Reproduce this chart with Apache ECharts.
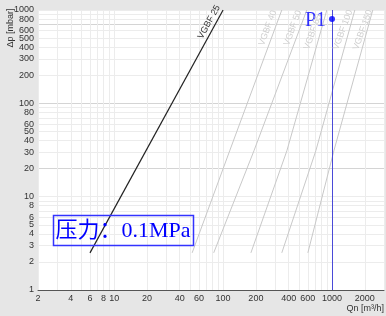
<!DOCTYPE html>
<html><head><meta charset="utf-8">
<script src="https://cdn.jsdelivr.net/npm/echarts@6/dist/echarts.min.js"></script>
<style>html,body{margin:0;padding:0;background:#e6e6e6}#c{width:386px;height:316px}</style>
</head><body><div id="c"></div>
<script>
// ---- data ----
const xTickLabels = [2,4,6,8,10,20,40,60,100,200,400,600,1000,2000];
const yTickLabels = [1,2,3,4,5,6,8,10,20,30,40,50,60,80,100,200,300,400,500,600,800,1000];
const xGrid = [2,3,4,5,6,7,8,9,10,20,30,40,50,60,70,80,90,100,200,300,400,500,600,700,800,900,1000,2000,3000];
const yGrid = [1,2,3,4,5,6,7,8,9,10,20,30,40,50,60,70,80,90,100,200,300,400,500,600,700,800,900,1000];
const yMajor = [1,20,100,700];
const curveNames = ['VGBF 25','VGBF 40','VGBF 50','VGBF 65','VGBF 100','VGBF 150'];
const vgbf25  = [[6,2.5],[100,1000]];
const vgbf40  = [[52,2.5],[115,31],[346,1000]];
const vgbf50  = [[82,2.5],[192,31],[587,1000]];
const vgbf65  = [[180,2.5],[385,31],[896,1000]];
const vgbf100 = [[346,2.5],[710,31],[1619,1000]];
const vgbf150 = [[600,2.5],[1040,31],[2366,1000]];
const p1 = [1000,800];
const pressureText = '压力：0.1MPa';
const xName = 'Qn [m³/h]';
const yName = 'Δp [mbar]';

const chart = echarts.init(document.getElementById('c'), null, {renderer:'canvas'});
const lbl = {color:'#333', fontSize:9, fontFamily:'Liberation Sans, Arial'};
const gray = '#c8c8c8';
function line(name, data, color, w){
  return {name, type:'line', data, symbol:'none', silent:true,
    lineStyle:{color, width:w}, xAxisIndex:0, yAxisIndex:0, z:3};
}
chart.setOption({
  animation:false,
  backgroundColor:'#e6e6e6',
  grid:{left:38, right:2, top:10, bottom:26, show:true, backgroundColor:'#fff', borderWidth:0, outerBoundsMode:'none', containLabel:false},
  xAxis:[{
    type:'log', logBase:10, min:2, max:3000,
    name:xName, nameLocation:'end', nameGap:0,
    nameTextStyle:{color:'#333', fontSize:9, fontFamily:'Liberation Sans, Arial', align:'right', verticalAlign:'top', padding:[14,0,0,0]},
    axisLine:{show:true, lineStyle:{color:'#555', width:1}},
    axisTick:{show:false, customValues:xGrid},
    axisLabel:{...lbl, margin:4, customValues:xTickLabels, formatter:v=>String(Math.round(v))},
    splitLine:{show:true, lineStyle:{color:'#ececec', width:1}}
  }],
  yAxis:[{
    type:'log', logBase:10, min:1, max:1000,
    axisLine:{show:false},
    axisTick:{show:false, customValues:yGrid},
    axisLabel:{...lbl, margin:4, customValues:yTickLabels, formatter:v=>String(Math.round(v))},
    splitLine:{show:true, lineStyle:{color:'#ececec', width:1}}
  },{
    type:'log', logBase:10, min:1, max:1000, show:true,
    axisLine:{show:false}, axisLabel:{show:false},
    axisTick:{show:false, customValues:yMajor},
    splitLine:{show:true, lineStyle:{color:'#d4d4d4', width:1}}
  }],
  series:[
    line(curveNames[1], vgbf40, gray, 1),
    line(curveNames[2], vgbf50, gray, 1),
    line(curveNames[3], vgbf65, gray, 1),
    line(curveNames[4], vgbf100, gray, 1),
    line(curveNames[5], vgbf150, gray, 1),
    line(curveNames[0], vgbf25, '#222', 1.2),
    {type:'scatter', data:[p1], symbolSize:6, itemStyle:{color:'#0000ff'}, z:5,
     label:{show:true, position:'left', formatter:'P1', color:'#0000ff', fontSize:20, fontFamily:'Liberation Serif, serif', offset:[2,2]},
     markLine:{silent:true, symbol:'none', label:{show:false}, lineStyle:{color:'#4a4ad8', type:'solid', width:1},
       data:[{xAxis:p1[0]}]}}
  ]
});

// labels of curves placed via library coordinates
const labelAnchors = [
  {name:curveNames[0], data:vgbf25[1], dx:-14, dy:12, rot:61, color:'#333'},
  {name:curveNames[1], data:vgbf40[2], dx:-14, dy:18, rot:70, color:'#cfcfcf'},
  {name:curveNames[2], data:vgbf50[2], dx:-14, dy:18, rot:70, color:'#cfcfcf'},
  {name:curveNames[3], data:vgbf65[2], dx:-14, dy:22, rot:70, color:'#cfcfcf'},
  {name:curveNames[4], data:vgbf100[2], dx:-12, dy:20, rot:70, color:'#cfcfcf'},
  {name:curveNames[5], data:vgbf150[2], dx:-10, dy:20, rot:70, color:'#cfcfcf'}
];
const gfx = labelAnchors.map(a=>{
  const p = chart.convertToPixel({xAxisIndex:0,yAxisIndex:0}, a.data);
  return {type:'text', x:p[0]+a.dx, y:p[1]+a.dy, rotation:a.rot*Math.PI/180, z:10,
    style:{text:a.name, fill:a.color, font:'9px Liberation Sans, Arial', align:'center', verticalAlign:'middle'}};
});
gfx.push({type:'text', x:11, y:28, rotation:Math.PI/2, z:10,
  style:{text:yName, fill:'#333', font:'9px Liberation Sans, Arial', align:'center', verticalAlign:'middle'}});
gfx.push({type:'rect', shape:{x:53.5, y:215.5, width:140, height:30}, z:10,
  style:{fill:'none', stroke:'#3333ff', lineWidth:1.5}});
gfx.push({type:'text', x:123, y:231, z:11,
  style:{text:pressureText, fill:'#0000ff', font:'22px Liberation Serif, Noto Sans CJK SC', align:'center', verticalAlign:'middle'}});
chart.setOption({graphic:gfx});
</script></body></html>
